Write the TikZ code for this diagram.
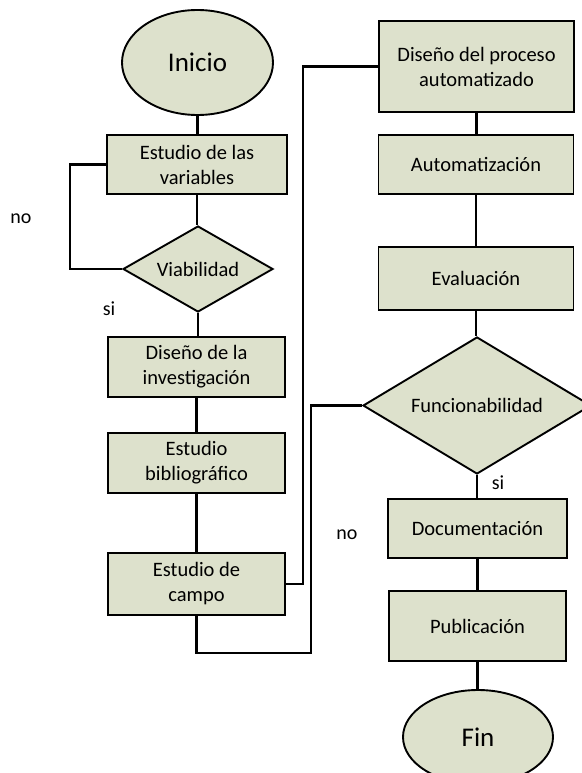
\documentclass[tikz,border=0pt]{standalone}
\usepackage{fontspec}
\setmainfont{Carlito}
\usetikzlibrary{shapes.geometric}
\definecolor{boxfill}{RGB}{221,225,204}
\tikzset{
  base/.style={draw=black, line width=1.9pt, fill=boxfill, inner sep=0pt,
    font=\fontsize{20.5}{25}\selectfont, align=center},
  procbox/.style={base, rectangle},
  term/.style={base, ellipse, font=\fontsize{27}{32}\selectfont},
  decision/.style={base, diamond},
  link/.style={line width=2.3pt, draw=black},
  lbl/.style={font=\fontsize{20}{24}\selectfont, inner sep=0pt}
}
\begin{document}
\begin{tikzpicture}[x=1pt, y=-1pt]
\useasboundingbox (0,0) rectangle (581,773);

% left column
\node[term, minimum width=151pt, minimum height=105pt] (inicio) at (197.5,62.5) {Inicio};
\node[procbox, minimum width=180pt, minimum height=59pt] (variables) at (197,164.5) {Estudio de las\\variables};
\node[decision, aspect=1.74, minimum width=150pt, minimum height=86pt] (viab) at (198,269) {Viabilidad};
\node[procbox, minimum width=177pt, minimum height=60pt] (diseno) at (196.5,367) {Diseño de la\\investigación};
\node[procbox, minimum width=177pt, minimum height=60pt] (biblio) at (196.5,463) {Estudio\\bibliográfico};
\node[procbox, minimum width=177pt, minimum height=62pt] (campo) at (196.5,584) {Estudio de\\campo};

% right column
\node[procbox, minimum width=195pt, minimum height=91pt] (proceso) at (476.5,66.5) {Diseño del proceso\\automatizado};
\node[procbox, minimum width=195pt, minimum height=59pt] (auto) at (476,164.5) {Automatización};
\node[procbox, minimum width=195pt, minimum height=63pt] (eval) at (476,278.5) {Evaluación};
\node[decision, aspect=1.66, minimum width=228pt, minimum height=137pt] (func) at (477,405.5) {Funcionabilidad};
\node[procbox, minimum width=179pt, minimum height=59pt] (doc) at (477.5,528.5) {Documentación};
\node[procbox, minimum width=177pt, minimum height=70pt] (pub) at (477.5,626) {Publicación};
\node[term, minimum width=150pt, minimum height=94pt] (fin) at (478,737) {Fin};

% branch labels
\node[lbl] (no1) at (21,219) {no};
\node[lbl] (si1) at (109,309) {si};
\node[lbl] (no2) at (347,535) {no};
\node[lbl] (si2) at (498,483) {si};

% turning points of the routed connectors
\coordinate (loopx) at (70,216);
\coordinate (upx) at (303,300);
\coordinate (lowx) at (311,653);

% main flow, left column
\draw[link] (inicio.south) -- (inicio.south |- variables.north);
\draw[link] (variables.south) -- (variables.south |- viab.north);
\draw[link] (viab.south) -- (viab.south |- diseno.north);
\draw[link] (diseno.south) -- (biblio.north);
\draw[link] (biblio.south) -- (campo.north);
\draw[link] (variables.west) -| (loopx) |- (viab.west);

% links across columns
\draw[link] (campo.east) -| (upx) |- (proceso.west);
\draw[link] (campo.south) |- (lowx) |- (func.west);

% main flow, right column
\draw[link] (proceso.south) -- (proceso.south |- auto.north);
\draw[link] (auto.south) -- (auto.south |- eval.north);
\draw[link] (eval.south) -- (eval.south |- func.north);
\draw[link] (func.south) -- (func.south |- doc.north);
\draw[link] (doc.south) -- (doc.south |- pub.north);
\draw[link] (pub.south) -- (pub.south |- fin.north);
\end{tikzpicture}
\end{document}
